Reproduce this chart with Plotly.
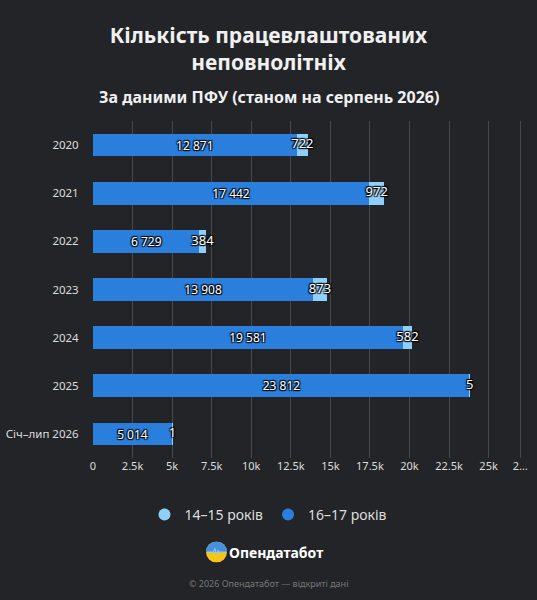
import plotly.graph_objects as go
import base64

years = ["2020", "2021", "2022", "2023", "2024", "2025", "Січ–лип 2026"]
age_16_17 = [12871, 17442, 6729, 13908, 19581, 23812, 5014]
age_14_15 = [722, 972, 384, 873, 582, 5, 1]
tick_vals = [0, 2500, 5000, 7500, 10000, 12500, 15000, 17500, 20000, 22500, 25000, 27000]
tick_text = ["0", "2.5k", "5k", "7.5k", "10k", "12.5k", "15k", "17.5k", "20k", "22.5k", "25k", "2…"]

def fmt(v):
    return f"{v:,}".replace(",", " ")

C_DARK, C_LIGHT = "#2b7fdc", "#8fd0fa"
shadow = "1px 1px 1px #000, -1px -1px 1px #000, 1px -1px 1px #000, -1px 1px 1px #000"
fig = go.Figure()
fig.add_bar(y=years, x=age_16_17, orientation="h", name="16–17 років", showlegend=False,
            marker=dict(color=C_DARK, line=dict(width=0)),
            text=[fmt(v) for v in age_16_17], textposition="inside", insidetextanchor="middle",
            textfont=dict(color="white", size=13, shadow=shadow), width=0.47)
fig.add_bar(y=years, x=age_14_15, orientation="h", name="14–15 років", showlegend=False,
            marker=dict(color=C_LIGHT, line=dict(width=0)), textposition="none", width=0.47)
fig.add_scatter(y=years, x=[a + b / 2 for a, b in zip(age_16_17, age_14_15)], mode="text",
                text=[fmt(v) for v in age_14_15], showlegend=False, cliponaxis=False,
                textfont=dict(color="white", size=13, shadow=shadow), hoverinfo="skip")
for nm, col in [("14–15 років", C_LIGHT), ("16–17 років", C_DARK)]:
    fig.add_scatter(x=[None], y=[None], mode="markers", name=nm,
                    marker=dict(symbol="circle", size=19, color=col))

svg = ('<svg xmlns="http://www.w3.org/2000/svg" width="40" height="40" viewBox="0 0 40 40">'
       '<circle cx="20" cy="20" r="20" fill="#f5c518"/>'
       '<path d="M0 20 A20 20 0 0 1 40 20 Z" fill="#4a90e2"/>'
       '<path d="M2 20 L14 20 L17 14 L20 24 L23 17 L26 20 L38 20" stroke="#7fd0ff" stroke-width="2" fill="none"/></svg>')
logo = "data:image/svg+xml;base64," + base64.b64encode(svg.encode()).decode()

PW, PH = 432, 337
def px(x): return (x - 93) / PW
def py(y): return (458 - y) / PH

fig.update_layout(
    width=537, height=600, barmode="stack",
    paper_bgcolor="#222427", plot_bgcolor="#222427",
    font=dict(family="Noto Sans", color="#dddddd", size=12),
    margin=dict(l=93, r=12, t=121, b=142),
    title=dict(text="<b>Кількість працевлаштованих<br>неповнолітніх</b>", x=0.5, xanchor="center",
               y=1 - 49 / 600, yanchor="middle", font=dict(size=21, color="#f0f0f0")),
    xaxis=dict(range=[0, 27300], tickvals=tick_vals, ticktext=tick_text, showgrid=True,
               gridcolor="#45484d", zeroline=False, tickfont=dict(size=11, color="#dddddd"), automargin=False),
    yaxis=dict(autorange="reversed", showgrid=False, ticksuffix=" ", ticks="outside", ticklen=8,
               tickcolor="rgba(0,0,0,0)", tickfont=dict(size=11.5, color="#dddddd"), automargin=False),
    legend=dict(orientation="h", x=px(268.5), xanchor="center", y=py(515), yanchor="middle",
                traceorder="normal", font=dict(size=14, color="#dddddd"), itemsizing="constant"),
    annotations=[
        dict(text="<b>За даними ПФУ (станом на серпень 2026)</b>", xref="paper", yref="paper",
             x=px(268.5), y=py(97), xanchor="center", yanchor="middle", showarrow=False, font=dict(size=16, color="#f0f0f0")),
        dict(text="<b>Опендатабот</b>", xref="paper", yref="paper", x=px(227), y=py(552), xanchor="left",
             yanchor="middle", showarrow=False, font=dict(size=14, color="#ffffff")),
        dict(text="© 2026 Опендатабот — відкриті дані", xref="paper", yref="paper", x=px(268.5), y=py(583),
             xanchor="center", yanchor="middle", showarrow=False, font=dict(size=9, color="#777777")),
    ],
    images=[dict(source=logo, xref="paper", yref="paper", x=px(227), y=py(552), sizex=21 / PW, sizey=21 / PH,
                 xanchor="right", yanchor="middle", layer="above")],
)
fig.layout.title.y = 1 - 43 / 600
fig.write_html("out.html", config={"displayModeBar": False}, post_script="document.body.style.margin='0';")
